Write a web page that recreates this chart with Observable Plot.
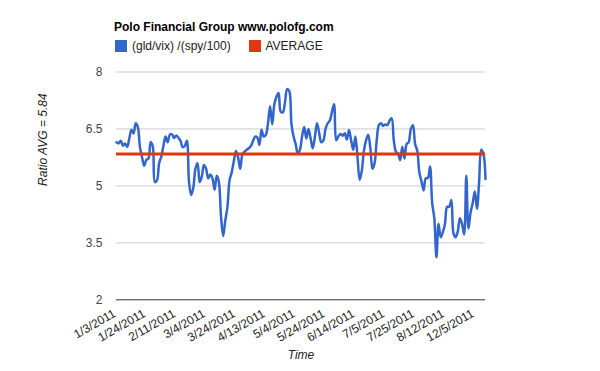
<!DOCTYPE html>
<html>
<head>
<meta charset="utf-8">
<script src="https://cdn.jsdelivr.net/npm/d3@7"></script>
<script src="https://cdn.jsdelivr.net/npm/@observablehq/plot@0.6"></script>
<style>
  html, body { margin: 0; padding: 0; background: #fff; }
  body { font-family: Arial, "Liberation Sans", sans-serif; }
  #wrap { width: 600px; }
  #head { position: relative; width: 600px; height: 60px; }
  #head div { position: absolute; white-space: nowrap; line-height: 12px; font-size: 12px; color: #222; }
  #title { font-weight: bold; color: #000 !important; }
  .sw { width: 12px; height: 12px; }
  svg { display: block; }
</style>
</head>
<body>
<div id="wrap">
  <div id="head"></div>
  <div id="chart"></div>
</div>
<script>
const chartTitle = "Polo Financial Group www.polofg.com";
const seriesNames = ["(gld/vix) /(spy/100)", "AVERAGE"];
const seriesColors = ["#3366cc", "#dc3912"];
const average = 5.84;
const yTicks = [2, 3.5, 5, 6.5, 8];
const tickIndex = [0, 14, 28, 42, 56, 70, 84, 98, 112, 126, 140, 154, 168];
const tickLabels = ["1/3/2011", "1/24/2011", "2/11/2011", "3/4/2011", "3/24/2011", "4/13/2011",
  "5/4/2011", "5/24/2011", "6/14/2011", "7/5/2011", "7/25/2011", "8/12/2011", "12/5/2011"];
const ratio = [
  6.15, 6.12, 6.19, 6.06, 6.12, 6.03, 6.25, 6.48, 6.38, 6.65,
  6.55, 6.02, 5.75, 5.53, 5.69, 5.72, 6.15, 6.05, 5.10, 5.15,
  5.60, 5.77, 6.06, 6.30, 6.15, 6.35, 6.36, 6.26, 6.33, 6.27,
  6.19, 6.02, 6.05, 6.19, 5.10, 4.76, 4.95, 5.45, 5.60, 5.10,
  5.25, 5.55, 5.45, 5.20, 5.30, 5.20, 4.90, 5.27, 5.10, 4.20,
  3.68, 4.09, 4.44, 5.15, 5.35, 5.65, 5.92, 5.75, 5.45, 5.82,
  5.90, 5.95, 5.99, 6.05, 6.18, 6.30, 6.28, 6.08, 6.48, 6.30,
  6.34, 6.64, 7.10, 6.62, 7.15, 7.35, 7.45, 6.95, 6.94, 7.20,
  7.55, 7.50, 6.65, 6.30, 6.10, 5.85, 5.95, 6.30, 6.55, 6.25,
  6.50, 6.25, 5.99, 6.28, 6.65, 6.40, 6.15, 6.20, 6.50, 6.65,
  6.72, 6.95, 7.15, 6.20, 6.30, 6.37, 6.32, 6.39, 6.22, 6.47,
  6.20, 5.95, 6.30, 5.75, 5.16, 5.40, 5.93, 6.20, 6.35, 6.00,
  5.45, 5.60, 6.20, 6.60, 6.65, 6.58, 6.62, 6.60, 6.72, 6.78,
  6.20, 5.90, 5.85, 5.68, 6.03, 5.72, 6.10, 6.15, 6.50, 6.60,
  6.10, 5.93, 5.35, 5.12, 4.88, 5.20, 5.21, 5.51, 4.55, 4.15,
  3.12, 4.00, 3.65, 3.78, 4.00, 4.45, 4.45, 4.63, 3.75, 3.65,
  3.80, 4.15, 4.00, 3.72, 5.27, 3.88, 4.30, 4.55, 4.85, 4.40,
  5.10, 5.95, 5.85, 5.18
];

// header: title + legend (HTML above the SVG)
const head = document.getElementById("head");
function add(cls, text, left, top, extra) {
  const d = document.createElement("div");
  if (cls) d.className = cls;
  if (cls === "title") d.id = "title";
  d.textContent = text || "";
  d.style.left = left + "px";
  d.style.top = top + "px";
  Object.assign(d.style, extra || {});
  head.appendChild(d);
  return d;
}
const t = add("title", chartTitle, 114, 20.5, {fontWeight: "bold", color: "#000"});
add("sw", "", 115, 40, {background: seriesColors[0]});
add(null, seriesNames[0], 132, 40);
add("sw", "", 249, 40, {background: seriesColors[1]});
add(null, seriesNames[1], 265.5, 40);

const chart = Plot.plot({
  width: 600,
  height: 311,
  marginTop: 11.5,
  marginBottom: 71.7,
  marginLeft: 116,
  marginRight: 115,
  x: {domain: [0, ratio.length - 1], axis: null},
  y: {domain: [2, 8], axis: null},
  style: {fontFamily: 'Arial, "Liberation Sans", sans-serif', fontSize: "12px", color: "#222", background: "#fff"},
  marks: [
    Plot.ruleY(yTicks.filter(d => d !== 2), {y: d => d, stroke: "#cccccc", strokeWidth: 1}),
    Plot.ruleY([yTicks[0]], {y: d => d, stroke: "#333333", strokeWidth: 1}),
    Plot.text(yTicks, {y: d => d, text: d => String(d), frameAnchor: "left", dx: -14, textAnchor: "end", fill: "#444"}),
    Plot.text(tickIndex, {x: d => d, text: (d, i) => tickLabels[i], frameAnchor: "bottom", rotate: -30, textAnchor: "end", dy: 16, fill: "#222"}),
    Plot.line(ratio, {x: (d, i) => i, y: d => d, curve: "catmull-rom", stroke: seriesColors[0], strokeWidth: 2.5}),
    Plot.ruleY([average], {y: d => d, stroke: seriesColors[1], strokeWidth: 3}),
    Plot.text([`Ratio AVG = ${average}`], {frameAnchor: "left", dx: -73, rotate: -90, fontStyle: "italic", fill: "#222", text: d => d}),
    Plot.text(["Time"], {frameAnchor: "bottom", dy: 58.7, fontStyle: "italic", fill: "#222", text: d => d})
  ]
});
document.getElementById("chart").appendChild(chart);
</script>
</body>
</html>
